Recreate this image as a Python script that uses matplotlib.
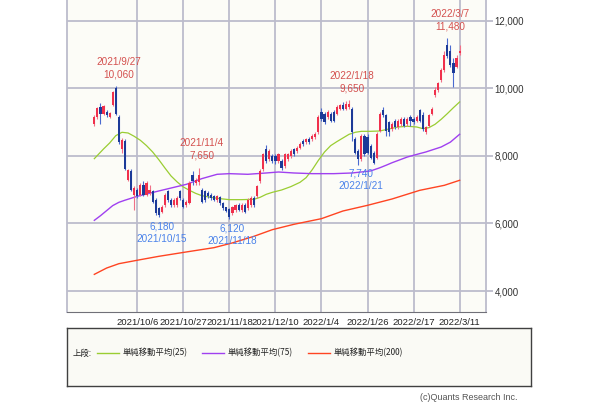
import numpy as np
import pandas as pd
import matplotlib
matplotlib.use("Agg")
import matplotlib.pyplot as plt

# trading days (TSE holidays removed)
holidays = ['2021-09-20', '2021-09-23', '2021-11-03', '2021-11-23', '2021-12-31',
            '2022-01-03', '2022-01-10', '2022-02-11', '2022-02-23']
dates = pd.bdate_range('2021-09-14', '2022-03-11', freq='C', holidays=holidays)

# daily candles
opens = [8950, 9150, 9450, 9250, 9300, 9150, 9500, 10000, 9165, 8200,
         8450, 7300, 7550, 6850, 7000, 6850, 7150, 6850, 6900, 6950,
         6700, 6450, 6350, 6550, 6950, 6700, 6550, 6550, 6950, 6700,
         6550, 6600, 7450, 7200, 7230, 7000, 6950, 6900, 6850, 6800,
         6700, 6780, 6600, 6480, 6420, 6300, 6400, 6550, 6400, 6550,
         6450, 6550, 6750, 6800, 7250, 7600, 8200, 7900, 8000, 8000,
         7850, 7850, 7700, 7900, 8000, 8200, 8150, 8250, 8450, 8400,
         8500, 8500, 8550, 8700, 9300, 9250, 9150, 9250, 9300, 9250,
         9400, 9500, 9400, 9450, 9400, 8500, 8150, 7900, 8600, 8550,
         8300, 8100, 7950, 8750, 9350, 9200, 9000, 8800, 9050, 8850,
         8950, 9100, 8950, 9150, 9100, 9050, 9350, 9200, 8700, 8900,
         9250, 9800, 9950, 10250, 10550, 11300, 11100, 10750, 10650, 11050]
highs = [9200, 9460, 9580, 9520, 9350, 9300, 9930, 10060, 9200, 8520,
         8500, 7600, 7600, 7100, 7050, 7200, 7250, 7250, 7150, 6980,
         6750, 6500, 6550, 6900, 7000, 6750, 6750, 6800, 7000, 6750,
         6700, 7250, 7550, 7350, 7650, 7050, 7000, 6950, 6900, 6850,
         6850, 6800, 6650, 6500, 6450, 6520, 6580, 6600, 6600, 6600,
         6750, 6800, 6800, 7150, 7600, 8100, 8320, 8200, 8050, 8050,
         8100, 7900, 8100, 8100, 8200, 8250, 8300, 8400, 8500, 8520,
         8550, 8650, 8700, 9200, 9420, 9300, 9350, 9300, 9350, 9500,
         9550, 9600, 9620, 9650, 9450, 8550, 8200, 8650, 8650, 8650,
         8350, 8150, 8700, 9300, 9450, 9250, 9050, 9000, 9100, 9100,
         9150, 9150, 9150, 9200, 9150, 9200, 9400, 9300, 8900, 9250,
         9450, 10050, 10200, 10600, 11100, 11480, 11300, 10900, 11000, 11300]
lows = [8900, 9100, 8960, 9200, 9150, 9120, 9480, 9200, 8350, 8100,
        7580, 7250, 6950, 6390, 6750, 6800, 6800, 6800, 6850, 6600,
        6250, 6180, 6300, 6500, 6650, 6500, 6480, 6480, 6700, 6450,
        6500, 6580, 7150, 7150, 7150, 6600, 6650, 6750, 6700, 6680,
        6650, 6550, 6400, 6330, 6120, 6250, 6350, 6380, 6350, 6300,
        6400, 6500, 6500, 6750, 7200, 7550, 7800, 7850, 7800, 7750,
        7800, 7580, 7650, 7850, 7950, 8000, 8100, 8200, 8300, 8350,
        8350, 8450, 8500, 8650, 9050, 8950, 9100, 9000, 9000, 9200,
        9350, 9350, 9350, 9400, 8450, 8050, 7740, 7850, 8000, 8050,
        7900, 7750, 7900, 8700, 9150, 8600, 8600, 8750, 8800, 8800,
        8900, 8850, 8900, 8900, 8950, 9000, 9000, 8750, 8650, 8850,
        9200, 9750, 9900, 10200, 10500, 10900, 10650, 10050, 10600, 11000]
closes = [9150, 9420, 9250, 9480, 9200, 9280, 9900, 9250, 8424, 8470,
          7600, 7580, 7000, 7050, 6800, 7150, 6850, 7200, 7000, 6650,
          6300, 6250, 6500, 6850, 6700, 6550, 6700, 6750, 6750, 6500,
          6650, 7200, 7250, 7300, 7450, 6650, 6700, 6800, 6750, 6700,
          6800, 6600, 6450, 6380, 6200, 6480, 6550, 6400, 6550, 6350,
          6700, 6750, 6550, 7100, 7550, 8050, 7850, 8150, 7850, 7850,
          8050, 7650, 8050, 8050, 8150, 8050, 8250, 8350, 8350, 8500,
          8400, 8600, 8650, 9150, 9100, 9000, 9300, 9050, 9050, 9450,
          9500, 9400, 9550, 9550, 8700, 8100, 7900, 8600, 8050, 8100,
          7950, 7800, 8650, 9250, 9200, 8750, 8700, 8950, 8850, 9050,
          9100, 8900, 9100, 9050, 9000, 9150, 9050, 8800, 8850, 9200,
          9400, 9950, 10150, 10550, 11000, 10950, 10700, 10450, 10900, 11100]

# moving averages, read at sample candle positions
ma25_idx = [0, 3, 5, 7, 9, 11, 13, 15, 17, 19, 21, 23, 25, 27, 29, 31, 33, 35, 38, 41,
            44, 48, 52, 54, 56, 58, 61, 64, 67, 69, 71, 73, 75, 77, 79, 81, 83, 85, 87,
            90, 93, 96, 99, 102, 105, 107, 109, 111, 113, 115, 117, 119]
ma25_val = [7920, 8207, 8385, 8602, 8701, 8681, 8582, 8464, 8306, 8118, 7891, 7644, 7407,
            7229, 7081, 6982, 6893, 6824, 6775, 6735, 6706, 6706, 6716, 6775, 6864, 6923,
            6992, 7091, 7219, 7358, 7594, 7871, 8118, 8306, 8424, 8533, 8642, 8701, 8730,
            8730, 8740, 8800, 8859, 8879, 8859, 8810, 8839, 8938, 9086, 9254, 9432, 9600]
ma75_idx = [0, 2, 4, 6, 8, 10, 14, 21, 30, 35, 40, 44, 50, 56, 60, 65, 71, 78, 84, 90,
            93, 95, 97, 102, 106, 108, 113, 116, 119]
ma75_val = [6093, 6230, 6380, 6530, 6627, 6690, 6805, 6963, 7160, 7328, 7457, 7476, 7457,
            7496, 7525, 7496, 7476, 7476, 7496, 7556, 7650, 7723, 7800, 7970, 8070, 8118,
            8266, 8410, 8642]
ma200_idx = [0, 4, 8, 15, 21, 30, 39, 45, 52, 58, 65, 74, 81, 89, 97, 106, 114, 119]
ma200_val = [4493, 4680, 4809, 4928, 5027, 5157, 5284, 5425, 5620, 5817, 5975, 6143,
             6370, 6538, 6726, 6982, 7130, 7279]

tick_dates = ['2021-10-06', '2021-10-27', '2021-11-18', '2021-12-10',
              '2022-01-04', '2022-01-26', '2022-02-17', '2022-03-11']
high_marks = ['2021-09-27', '2021-11-04', '2022-01-18', '2022-03-07']
low_marks = ['2021-10-15', '2021-11-18', '2022-01-21']

yticks = [4000, 6000, 8000, 10000, 12000]

# colours
UP = '#f0304c'
UP_WICK = '#f07088'
DOWN = '#1c3a98'
DOWN_WICK = '#4a6ad0'
GRID = '#bcbccc'
RED_TXT = '#d4504e'
BLUE_TXT = '#4a82ea'
num_font = ['Liberation Sans', 'DejaVu Sans']
jp_font = ['Noto Sans CJK JP', 'DejaVu Sans']


def fmt_date(d):
    t = pd.Timestamp(d)
    return f'{t.year}/{t.month}/{t.day}'


fig = plt.figure(figsize=(6.0, 4.04), dpi=100)
fig.patch.set_facecolor('white')
ax = fig.add_axes([67 / 600, 92 / 404, 419 / 600, 312 / 404])
ax.set_facecolor('#fcfcf7')

o = np.array(opens)
h = np.array(highs)
l = np.array(lows)
c = np.array(closes)
x = np.arange(len(c))
up = c >= o

ax.vlines(x[up], l[up], h[up], color=UP_WICK, lw=0.8, zorder=3)
ax.vlines(x[~up], l[~up], h[~up], color=DOWN_WICK, lw=0.8, zorder=3)
body = np.maximum(np.abs(c - o), 30)
ax.bar(x[up], body[up], bottom=o[up], width=0.7, color=UP, lw=0, zorder=4)
ax.bar(x[~up], body[~up], bottom=c[~up], width=0.7, color=DOWN, lw=0, zorder=4)

ax.plot(ma25_idx, ma25_val, color='#9acd32', lw=0.9, zorder=2)
ax.plot(ma75_idx, ma75_val, color='#a040f0', lw=1.0, zorder=2)
ax.plot(ma200_idx, ma200_val, color='#ff4422', lw=1.0, zorder=2)

pos = {d.strftime('%Y-%m-%d'): i for i, d in enumerate(dates)}

ax.set_xlim(-8.9, 127.6)
ax.set_ylim(3378, 12620)

ax.set_xticks([pos[d] for d in tick_dates])
ax.set_xticklabels([fmt_date(d) for d in tick_dates],
                   fontsize=6.8, family=num_font, color='#222222')
ax.tick_params(axis='x', length=0, pad=4)
ax.set_yticks(yticks)
ax.set_yticklabels([f'{v:,}' for v in yticks], fontsize=7, family=num_font, color='#333333')
ax.yaxis.tick_right()
ax.tick_params(axis='y', length=5, width=1.3, color=GRID, pad=1)
ax.grid(True, color=GRID, lw=1.3, zorder=0)
ax.set_axisbelow(True)
ax.spines['top'].set_visible(False)
ax.spines['left'].set_color(GRID)
ax.spines['right'].set_color(GRID)
ax.spines['bottom'].set_color('#707078')
ax.spines['left'].set_linewidth(1.3)
ax.spines['right'].set_linewidth(1.3)

# high / low labels
for d in high_marks:
    i = pos[d]
    ax.annotate(f'{fmt_date(d)}\n{h[i]:,}', (i, h[i]),
                xytext=(3, 7), textcoords='offset pixels', ha='center', va='bottom',
                fontsize=7.2, family=num_font, color=RED_TXT, linespacing=1.3, zorder=5)
for d in low_marks:
    i = pos[d]
    ax.annotate(f'{l[i]:,}\n{fmt_date(d)}', (i, l[i]),
                xytext=(3, -4), textcoords='offset pixels', ha='center', va='top',
                fontsize=7.2, family=num_font, color=BLUE_TXT, linespacing=1.3, zorder=5)

# legend box
lg = fig.add_axes([67 / 600, 18 / 404, 464 / 600, 58 / 404])
lg.set_facecolor('#fafaf5')
lg.set_xticks([])
lg.set_yticks([])
for s in lg.spines.values():
    s.set_color('#404040')
    s.set_linewidth(1.0)
lg.set_xlim(67, 531)
lg.set_ylim(0, 58)
ly = 33
lg.text(73, ly, '上段:', fontsize=6, family=jp_font, va='center', color='#222222')
legend_items = [('単純移動平均(25)', '#9acd32', 97), ('単純移動平均(75)', '#a040f0', 202),
                ('単純移動平均(200)', '#ff4422', 308)]
for label, col, x0 in legend_items:
    lg.plot([x0, x0 + 22], [ly, ly], color=col, lw=1.0)
    lg.text(x0 + 26, ly, label, fontsize=6, family=jp_font, va='center', color='#222222')

fig.text(518 / 600, 6 / 404, '(c)Quants Research Inc.', fontsize=6.5, family=num_font,
         ha='right', va='center', color='#555555')

fig.savefig('out.png', dpi=100)
